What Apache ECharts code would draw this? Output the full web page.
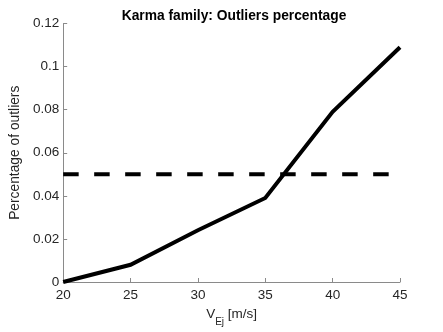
<!DOCTYPE html>
<html>
<head>
<meta charset="utf-8">
<script src="https://cdn.jsdelivr.net/npm/echarts@6/dist/echarts.min.js"></script>
<style>html,body{margin:0;padding:0;background:#fff}#c{width:443px;height:332px}</style>
</head>
<body>
<div id="c"></div>
<script>
const speeds = [20, 25, 30, 35, 40, 45];
const outlierPct = [0, 0.008, 0.024, 0.039, 0.079, 0.109];
const thresholdX = [20, 45];
const thresholdY = [0.05, 0.05];
const titleText = 'Karma family: Outliers percentage';
const yName = 'Percentage of outliers';

const FONT = '"Liberation Sans", Arial, Helvetica, sans-serif';
const chart = echarts.init(document.getElementById('c'), null, {renderer: 'canvas'});
chart.setOption({
  animation: false,
  backgroundColor: '#fff',
  title: {
    text: titleText,
    left: 229, top: 4, textAlign: 'center',
    textStyle: {fontFamily: FONT, fontSize: 13.8, fontWeight: 'bold', color: '#000'}
  },
  grid: {left: 57.5, right: 43, top: 23.5, bottom: 47, containLabel: false},
  xAxis: {
    type: 'value', min: 20, max: 45, interval: 5,
    name: 'V{sub|Ej} [m/s]', nameLocation: 'middle', nameGap: 19,
    nameTextStyle: {fontFamily: FONT, fontSize: 13.5, color: '#262626',
      rich: {sub: {fontFamily: FONT, fontSize: 10, color: '#262626', padding: [16, 0, 0, 0]}}},
    axisLine: {show: true, lineStyle: {color: '#8a8a8a', width: 1}},
    axisTick: {show: true, inside: true, length: 4, lineStyle: {color: '#8a8a8a'}},
    axisLabel: {margin: 6, fontFamily: FONT, fontSize: 13.5, color: '#262626'},
    splitLine: {show: false}
  },
  yAxis: {
    type: 'value', min: 0, max: 0.12, interval: 0.02,
    name: yName, nameLocation: 'middle', nameGap: 35, nameRotate: 90,
    nameTextStyle: {fontFamily: FONT, fontSize: 13.8, color: '#262626'},
    axisLine: {show: true, lineStyle: {color: '#8a8a8a', width: 1}},
    axisTick: {show: true, inside: true, length: 4, lineStyle: {color: '#8a8a8a'}},
    axisLabel: {margin: 4, fontFamily: FONT, fontSize: 13.5, color: '#262626',
      formatter: v => String(Math.round(v * 100) / 100)},
    splitLine: {show: false}
  },
  series: [
    {
      type: 'line',
      data: speeds.map((x, i) => [x, outlierPct[i]]),
      symbol: 'none',
      lineStyle: {color: '#000', width: 4, join: 'miter'},
      z: 3
    },
    {
      type: 'line',
      data: thresholdX.map((x, i) => [x, thresholdY[i]]),
      symbol: 'none',
      lineStyle: {color: '#000', width: 4, type: [15.5, 15.5], cap: 'butt'},
      z: 2
    }
  ]
});
</script>
</body>
</html>
